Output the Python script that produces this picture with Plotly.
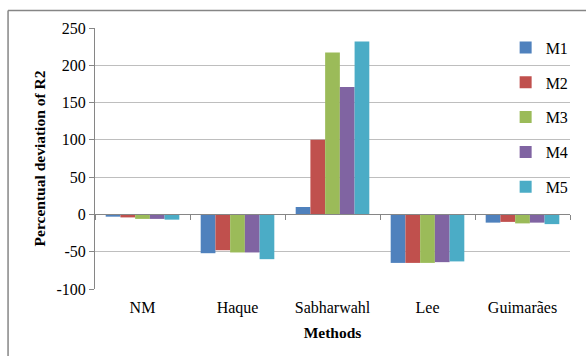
import plotly.graph_objects as go

methods = ["NM", "Haque", "Sabharwahl", "Lee", "Guimarães"]
series_names = ["M1", "M2", "M3", "M4", "M5"]
m1 = [-3, -52, 10, -65, -11]
m2 = [-4, -48, 100, -65, -10]
m3 = [-6, -51, 217, -65, -12]
m4 = [-6, -51, 171, -64, -11]
m5 = [-7, -60, 232, -63, -13]
series_values = [m1, m2, m3, m4, m5]
colors = ["#4F81BD", "#C0504D", "#9BBB59", "#8064A2", "#4BACC6"]
y_ticks = [-100, -50, 0, 50, 100, 150, 200, 250]
y_tick_text = [str(v) for v in y_ticks]

FONT = "Liberation Serif"
Y_MIN, Y_MAX = -100, 250

fig = go.Figure()
for name, vals, col in zip(series_names, series_values, colors):
    fig.add_trace(go.Bar(
        x=methods, y=vals, name=name, marker_color=col,
        marker_line_width=0, legendgroup=name,
    ))

# invisible trace that carries the category axis drawn along y = 0
fig.add_trace(go.Scatter(
    x=methods, y=[None] * len(methods), xaxis="x2",
    showlegend=False, hoverinfo="skip",
))

zero_pos = (0 - Y_MIN) / (Y_MAX - Y_MIN)

fig.update_layout(
    width=586, height=356,
    margin=dict(l=95, r=13, t=28, b=67),
    paper_bgcolor="white", plot_bgcolor="white",
    barmode="group", bargap=0.225, bargroupgap=0,
    font=dict(family=FONT, size=16, color="#000000"),
    xaxis=dict(
        type="category", showline=False, showgrid=False, ticks="",
        tickfont=dict(family=FONT, size=16), ticklabelstandoff=7,
        title=dict(text="<b>Methods</b>", font=dict(family=FONT, size=15.5), standoff=11),
    ),
    xaxis2=dict(
        type="category", overlaying="x", matches="x", anchor="free",
        position=zero_pos, side="bottom", showline=True, linecolor="#868686",
        linewidth=1, ticks="outside", tickson="boundaries", ticklen=5,
        tickcolor="#868686", showticklabels=False, showgrid=False,
    ),
    yaxis=dict(
        range=[Y_MIN, Y_MAX], tickvals=y_ticks, ticktext=y_tick_text,
        showgrid=True, gridcolor="#BEBEBE", gridwidth=1, zeroline=False,
        showline=True, linecolor="#868686", ticks="outside", ticklen=5,
        tickcolor="#868686", tickfont=dict(family=FONT, size=16),
        title=dict(text="<b>Percentual deviation of R2</b>",
                   font=dict(family=FONT, size=15.5), standoff=7),
    ),
    legend=dict(
        x=0.8645, y=0.99, xanchor="left", yanchor="top",
        bgcolor="rgba(0,0,0,0)", font=dict(family=FONT, size=16),
        tracegroupgap=11, itemwidth=30, traceorder="grouped",
    ),
    shapes=[
        dict(type="line", xref="paper", yref="paper",
             x0=(7.5 - 95) / 478, x1=(600 - 95) / 478,
             y0=(289 - 10.5) / 261, y1=(289 - 10.5) / 261,
             line=dict(color="#868686", width=1.5)),
        dict(type="line", xref="paper", yref="paper",
             x0=(7.5 - 95) / 478, x1=(7.5 - 95) / 478,
             y0=(289 - 10.5) / 261, y1=(289 - 370) / 261,
             line=dict(color="#868686", width=1.5)),
    ],
)

fig.write_html("out.html")
